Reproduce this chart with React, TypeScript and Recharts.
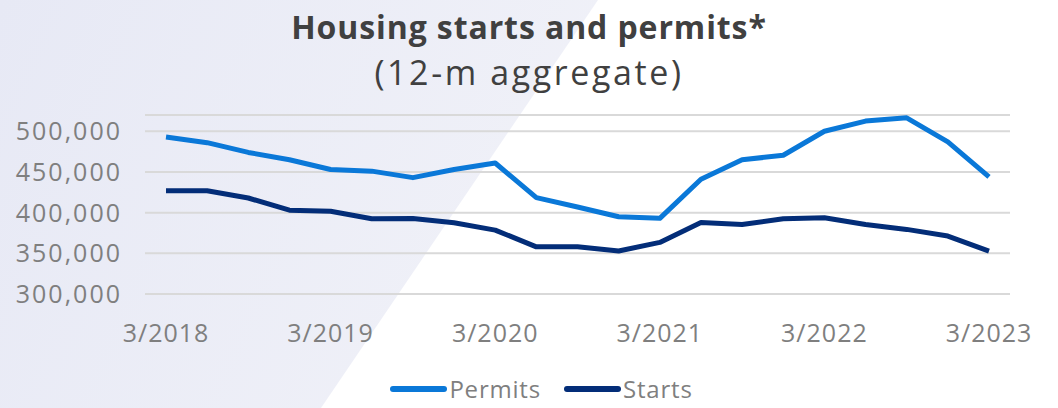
import React from "react"
import { LineChart, Line, XAxis, YAxis, CartesianGrid, Legend } from "recharts"

// quarterly, 3/2018 .. 3/2023
const quarters = [
  "3/2018", "6/2018", "9/2018", "12/2018",
  "3/2019", "6/2019", "9/2019", "12/2019",
  "3/2020", "6/2020", "9/2020", "12/2020",
  "3/2021", "6/2021", "9/2021", "12/2021",
  "3/2022", "6/2022", "9/2022", "12/2022",
  "3/2023",
]

const permits = [
  493000, 486000, 474000, 465000, 453000, 451000, 443000, 453000, 461000, 418500,
  407000, 395000, 393000, 441000, 465000, 470500, 500000, 512500, 516500, 487000, 444000,
]

const starts = [
  426800, 426800, 418000, 403000, 401800, 392400, 392800, 387500, 378500, 358000,
  358000, 352800, 363400, 388000, 385500, 392400, 393700, 385500, 379400, 371200, 352800,
]

const yTicks = [300000, 350000, 400000, 450000, 500000]

const data = quarters.map((q, i) => ({ q, Permits: permits[i], Starts: starts[i] }))

const FONT = "'Open Sans', 'DejaVu Sans', sans-serif"
const PERMITS_COLOR = "#0a78d8"
const STARTS_COLOR = "#032d78"

const renderLegend = (props: any) => {
  const items = props.payload || []
  return (
    <div style={{ display: "flex", justifyContent: "center", alignItems: "center", paddingLeft: 48, height: 28, marginTop: 7 }}>
      {items.map((it: any) => (
        <div key={it.value} style={{ display: "flex", alignItems: "center", marginRight: 23 }}>
          <svg width={57} height={8} style={{ marginRight: 2 }}>
            <line x1={3} y1={4} x2={54} y2={4} stroke={it.color} strokeWidth={6} strokeLinecap="round" />
          </svg>
          <span style={{ fontFamily: FONT, fontSize: 24, letterSpacing: 0.8, color: "#7f7f7f", lineHeight: "26px" }}>{it.value}</span>
        </div>
      ))}
    </div>
  )
}

export default function App() {
  return (
    <div style={{ position: "absolute", left: 0, top: 0, width: 1058, height: 408, background: "#fff", overflow: "hidden" }}>
      <svg width={1058} height={408} style={{ position: "absolute", left: 0, top: 0 }}>
        <defs>
          <linearGradient id="bgGrad" x1="0" y1="0" x2="1" y2="0.3">
            <stop offset="0%" stopColor="#e7e9f5" />
            <stop offset="100%" stopColor="#f0f1f8" />
          </linearGradient>
        </defs>
        <polygon points="0,0 598,0 321,408 0,408" fill="url(#bgGrad)" />
      </svg>
      <div
        style={{
          position: "absolute", top: 5, left: 0, width: 1058, textAlign: "center",
          fontFamily: FONT, fontWeight: 700, fontSize: 32, letterSpacing: 0.9, color: "#404040", lineHeight: "44px",
        }}
      >
        Housing starts and permits*
      </div>
      <div
        style={{
          position: "absolute", top: 49, left: 0, width: 1058, textAlign: "center",
          fontFamily: FONT, fontWeight: 400, fontSize: 34, letterSpacing: 2.6, color: "#404040", lineHeight: "46px",
        }}
      >
        (12-m aggregate)
      </div>
      <div style={{ position: "absolute", left: 0, top: 0 }}>
        <LineChart width={1058} height={408} data={data} margin={{ top: 115, right: 48, left: 0, bottom: 0 }}>
          <CartesianGrid vertical={false} stroke="#d9d9d9" strokeWidth={2} />
          <XAxis
            dataKey="q"
            interval={3}
            axisLine={false}
            tickLine={false}
            tickMargin={24}
            height={74}
            padding={{ left: 21, right: 21 }}
            tick={{ fill: "#7f7f7f", fontSize: 25, fontFamily: FONT, letterSpacing: 1 }}
          />
          <YAxis
            domain={[300000, 520000]}
            ticks={yTicks}
            allowDataOverflow
            width={145}
            axisLine={false}
            tickLine={false}
            tickMargin={17}
            tickFormatter={(v: number) => v.toLocaleString("en-US")}
            tick={{ fill: "#7f7f7f", fontSize: 25, fontFamily: FONT, letterSpacing: 2 }}
          />
          <Legend verticalAlign="bottom" height={40} content={renderLegend} wrapperStyle={{ left: 0, width: 1058 }} />
          <Line type="linear" dataKey="Permits" stroke={PERMITS_COLOR} strokeWidth={5} dot={false} strokeLinejoin="round" isAnimationActive={false} />
          <Line type="linear" dataKey="Starts" stroke={STARTS_COLOR} strokeWidth={5} dot={false} strokeLinejoin="round" isAnimationActive={false} />
        </LineChart>
      </div>
    </div>
  )
}
